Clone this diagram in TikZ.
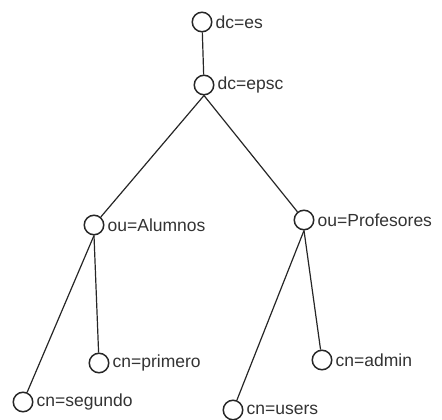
\documentclass[tikz,border=0pt]{standalone}
\usepackage{fontspec}
\setmainfont{Liberation Sans}
\begin{document}
\begin{tikzpicture}[x=1pt,y=-1pt,
  entry/.style={circle,draw=black!85,line width=1.5pt,minimum size=19.5pt,inner sep=0pt,
    label={[font=\fontsize{17.5}{19}\selectfont,text=black!80,label distance=2pt,inner sep=1pt]right:#1}},
  link/.style={draw=black!85,line width=1.2pt}]
\useasboundingbox (0,0) rectangle (442,420);
\node[entry={dc=es}] (es) at (202,22) {};
\node[entry={dc=epsc}] (epsc) at (204,85) {};
\node[entry={ou=Alumnos}] (alu) at (94,225) {};
\node[entry={ou=Profesores}] (prof) at (304,220) {};
\node[entry={cn=primero}] (pri) at (99,363) {};
\node[entry={cn=segundo}] (seg) at (23,402) {};
\node[entry={cn=admin}] (adm) at (322,360) {};
\node[entry={cn=users}] (usr) at (233,410) {};
\draw[link] (es) -- (epsc);
\draw[link] (epsc.south) -- (alu);
\draw[link] (epsc.south) -- (prof);
\draw[link] (alu.south) -- (pri);
\draw[link] (alu.south) -- (seg);
\draw[link] (prof.south) -- (adm);
\draw[link] (prof.south) -- (usr);
\end{tikzpicture}
\end{document}
